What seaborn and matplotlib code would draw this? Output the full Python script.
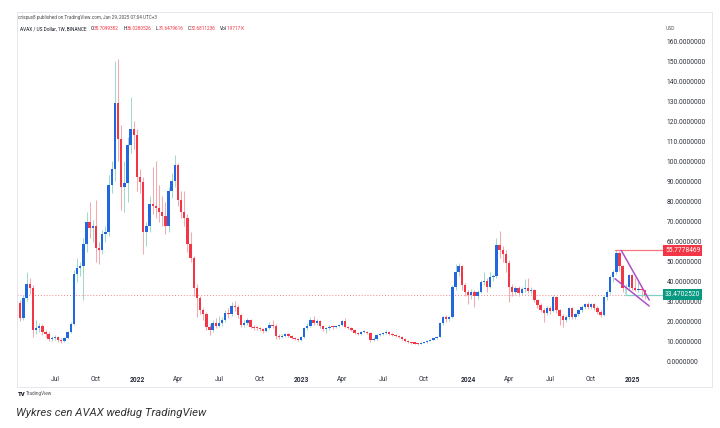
import numpy as np
import pandas as pd
import matplotlib
matplotlib.use("Agg")
import matplotlib.pyplot as plt
import matplotlib.dates as mdates
from matplotlib.patches import Rectangle
from matplotlib.ticker import FuncFormatter, FixedLocator
import seaborn as sns

# ---------------- data (weekly AVAX/USD candles) ----------------
start_date = "2021-04-12"
open0 = 29.5
closes = [22, 32, 39, 37, 16, 17, 18, 15, 14, 11.5, 12, 12.5, 11, 10.5, 12, 15, 19, 44, 47, 48,
          59, 70, 67, 68, 57, 56, 64, 65, 88, 96, 129, 111, 87, 89, 108, 116, 113, 92, 89.5, 65,
          68, 79, 78, 77, 75, 73, 68, 85, 90, 98, 81, 75, 72, 59, 52, 37, 32, 26, 24, 17.5,
          16, 19.5, 18, 19.5, 21, 24.5, 24, 28, 27.5, 23.5, 18.5, 19.5, 21, 17.5, 17, 16.8, 16.5, 15.5, 17, 18.5,
          18, 13, 12.5, 13, 14, 13, 12, 11.5, 11, 12.5, 17, 18, 21, 19.5, 20.5, 18, 16.5, 17, 17.5, 17.3,
          18, 18.5, 20.5, 17.5, 17, 16, 14.5, 14, 15, 15.2, 14.5, 11, 11.5, 13.5, 14, 14.5, 15, 14, 13.5, 13,
          12.5, 11.5, 10.5, 9.8, 9.4, 9.2, 9.0, 9.5, 9.8, 10.5, 11.2, 11.8, 12.6, 19.4, 22.6, 21.5, 22.4, 37.4, 45, 48,
          38.4, 35, 33.4, 35, 33, 35, 40, 40.5, 37.5, 42.5, 43, 58.3, 55.8, 54, 49.5, 37.5, 35, 37, 34.5, 36.5,
          37, 35.5, 36, 31, 28.5, 26, 24.5, 27, 25.5, 32.5, 26, 23, 21, 22.5, 27, 22.5, 24, 26, 27.6, 29,
          27.6, 29, 27, 25, 23.4, 32.6, 35, 42.5, 45, 54.2, 47.8, 36.7, 37.5, 43.4, 37, 36, 36.5, 35.7, 33.47]
highs = [31, 33.5, 45, 42, 38.5, 21, 19.5, 19, 16, 15, 13, 13.5, 13, 12, 12.5, 15.5, 20, 46, 52, 50,
         62, 75, 80, 71, 81, 60, 66, 68, 93, 100, 150, 151, 118, 100, 112, 132, 120, 116, 96, 92,
         70, 83, 97, 100, 88, 83, 80, 87, 94, 103, 99, 85, 85, 74, 65, 53, 39, 33, 27, 25,
         19, 21, 22, 23, 22.5, 26, 27, 30, 30.5, 28.5, 24, 21, 22, 21.5, 18.5, 18, 17.5, 17, 17.5, 20,
         21, 19, 14, 14, 14.5, 14.5, 13.5, 12.5, 12, 13, 17.5, 19.5, 22.6, 22.8, 21.5, 21, 18.5, 17.5, 18.5, 18,
         18.5, 19, 21, 22, 18, 17.5, 16.5, 15, 15.5, 15.8, 15.5, 15, 12.5, 14, 14.5, 15, 16, 15.3, 14.3, 13.8,
         13.3, 12.8, 11.8, 10.8, 10, 9.6, 9.4, 9.8, 10.2, 10.8, 11.5, 12.2, 13, 20, 23, 23.5, 23, 38.5, 49, 49.5,
         48.5, 39.5, 36, 36.5, 36, 36, 41, 45, 42, 45, 44, 61.8, 65.5, 58, 56, 51, 39, 38, 38, 37.5,
         41.5, 41.7, 37.5, 36.5, 31.5, 29.5, 27, 28, 28, 33.5, 33, 26.5, 24, 23.5, 27.5, 27.5, 24.5, 26.5, 28.5, 29.5,
         30, 29.5, 29.5, 28, 26, 33, 36, 43.5, 46, 55.8, 55.5, 48.5, 39, 44, 44, 42, 40, 37.5, 36.03]
lows = [20.5, 21, 30.5, 34, 12.5, 14, 15, 13.5, 12.5, 10.5, 10.5, 11, 10, 9.5, 10, 11.5, 14.5, 18.5, 40, 43,
        31, 55, 62, 60, 50, 49, 54, 60, 63, 84, 90, 100, 76, 75, 80, 104, 106, 85, 84, 54,
        58, 65, 74, 72, 70, 68, 64, 65, 82, 87, 78, 72, 68, 55, 50, 33, 22.5, 24, 21, 16,
        13.5, 15, 17, 17.5, 18, 20, 22, 23, 25.5, 22, 17.5, 17.5, 18.5, 17, 16, 16, 15.5, 14.5, 15, 16.5,
        17, 11.5, 11.5, 12, 12.5, 12.5, 11.5, 10.8, 10.5, 10.6, 12, 16, 17.5, 18.5, 18.5, 17, 15.5, 14.5, 16, 16.5,
        16.8, 17.5, 18, 17, 16.5, 15.5, 14, 13.5, 13.5, 14.3, 14, 10, 10.5, 11, 13, 13.5, 14, 13.5, 13, 12.5,
        12, 11, 10, 9.3, 9, 8.8, 8.6, 8.8, 9.3, 9.6, 10.3, 10.9, 11.6, 12.3, 18.5, 20, 20.5, 22, 36, 43,
        36, 33, 29, 31.5, 27.6, 31.5, 34.5, 38.5, 35, 37, 40.5, 42, 52, 50, 45, 30, 33, 33.5, 33, 33.5,
        35, 34.5, 34, 30, 27, 25, 20, 23.5, 24, 25, 24.5, 18.4, 17.5, 20, 21.5, 21.5, 21.5, 23, 25, 26.5,
        26.5, 26.5, 26, 24, 22.5, 23, 31, 34, 40, 44, 45.5, 35, 34, 36.5, 35.8, 35.5, 35, 32.6, 31.65]

tick_dates = ["2021-06-28", "2021-09-27", "2021-12-27", "2022-03-28", "2022-06-27", "2022-09-26",
              "2022-12-26", "2023-03-27", "2023-06-26", "2023-09-25", "2024-01-01", "2024-04-01",
              "2024-07-01", "2024-09-30", "2024-12-30"]
tick_labels = ["Jul", "Oct", "2022", "Apr", "Jul", "Oct", "2023", "Apr", "Jul", "Oct",
               "2024", "Apr", "Jul", "Oct", "2025"]
price_ticks = [0, 10, 20, 30, 40, 50, 60, 70, 80, 90, 100, 110, 120, 130, 140, 150, 160]

last_price = 33.4702520
resistance_price = 55.7778469
resistance_start = "2024-11-23"
wedge_upper_dates = ["2024-12-06", "2025-02-06"]
wedge_upper_vals = [55.6, 30.9]
wedge_lower_dates = ["2024-11-22", "2025-02-06"]
wedge_lower_vals = [41.5, 27.9]
box_date = "2024-12-14"
box_vals = [33.2, 36.9]

legend_pieces = [("O", "35.7099382"), ("H", "36.0280526"), ("L", "31.6479616"),
                 ("C", "32.6811236"), ("Vol", "19717 K")]

# ---------------- style ----------------
sns.set_theme(style="white")
plt.rcParams["font.family"] = ["Roboto", "DejaVu Sans"]

W, H = 720, 428
def fx(px):
    return px / W
def fy(py):
    return 1 - py / H

fig = plt.figure(figsize=(7.2, 4.28), dpi=100)
fig.patch.set_facecolor("white")

ax = fig.add_axes([fx(17), fy(370), fx(663) - fx(17), fy(12) - fy(370)])
ax.set_facecolor("white")

dates = pd.date_range(start_date, periods=len(closes), freq="7D")
x = mdates.date2num(dates)
c = np.array(closes, dtype=float)
o = np.concatenate([[open0], c[:-1]])
hi = np.array(highs, dtype=float)
lo = np.array(lows, dtype=float)
up = c >= o

body_up, body_dn = "#2168e0", "#f23645"
wick_up, wick_dn = "#a3d9cd", "#f7a9b0"

ax.vlines(x, lo, hi, colors=np.where(up, wick_up, wick_dn), linewidth=0.75, zorder=2)
ax.bar(x, np.maximum(np.abs(c - o), 0.55), bottom=np.minimum(o, c), width=5.3,
       color=np.where(up, body_up, body_dn), linewidth=0, zorder=3)

# x limits (layout)
x_left = mdates.date2num(pd.Timestamp("2021-04-04 16:00"))
x_right = mdates.date2num(pd.Timestamp("2025-03-08 14:00"))
ax.set_xlim(x_left, x_right)
ax.set_ylim(-3.99, 174.48)

# price line (dotted)
ax.axhline(last_price, color="#f23645", linestyle=(0, (1, 2)), linewidth=0.7, alpha=0.6, zorder=1)

# resistance line
rx = mdates.date2num(pd.to_datetime([resistance_start]))[0]
sns.lineplot(x=[rx, x_right], y=[resistance_price, resistance_price], ax=ax,
             color="#f7787f", linewidth=0.9, legend=False, zorder=4)

# teal box edge near the last price
bx = mdates.date2num(pd.to_datetime([box_date]))[0]
sns.lineplot(x=[bx, x_right], y=[box_vals[0], box_vals[0]], ax=ax,
             color="#7fd1c4", linewidth=0.9, legend=False, zorder=4)
ax.plot([bx, bx], box_vals, color="#b7e4dc", linewidth=0.8, zorder=4)

# falling wedge
ux = mdates.date2num(pd.to_datetime(wedge_upper_dates))
lx = mdates.date2num(pd.to_datetime(wedge_lower_dates))
sns.lineplot(x=ux, y=wedge_upper_vals, ax=ax, color="#b04fc6", linewidth=1.1, legend=False, zorder=5)
sns.lineplot(x=lx, y=wedge_lower_vals, ax=ax, color="#b04fc6", linewidth=1.1, legend=False, zorder=5)

# axes cosmetics
for s in ax.spines.values():
    s.set_visible(False)
ax.grid(False)
ax.yaxis.tick_right()
ax.yaxis.set_major_locator(FixedLocator(price_ticks))
ax.yaxis.set_major_formatter(FuncFormatter(lambda v, p: f"{v:.7f}"))
ax.tick_params(axis="y", length=0, pad=2.5, labelsize=4.8, labelcolor="#2a2e39")
tx = mdates.date2num(pd.to_datetime(tick_dates))
ax.set_xticks(tx)
ax.set_xticklabels(tick_labels)
ax.tick_params(axis="x", length=0, pad=4.5, labelsize=4.8, labelcolor="#2a2e39")
for lab in ax.get_xticklabels():
    if lab.get_text().isdigit():
        lab.set_fontweight("bold")
ax.set_xlabel("")
ax.set_ylabel("")

# price labels on the axis
ax.annotate(f"{resistance_price:.7f}", xy=(1.0, resistance_price), xycoords=("axes fraction", "data"),
            xytext=(1.5, 0), textcoords="offset points", ha="left", va="center",
            fontsize=4.8, color="white", annotation_clip=False,
            bbox=dict(boxstyle="square,pad=0.3", fc="#f23645", ec="none"), zorder=6)
ax.annotate(f"{last_price:.7f}", xy=(1.0, last_price), xycoords=("axes fraction", "data"),
            xytext=(1.5, 0), textcoords="offset points", ha="left", va="center",
            fontsize=4.8, color="white", annotation_clip=False,
            bbox=dict(boxstyle="square,pad=0.3", fc="#089981", ec="none"), zorder=6)

# frame
fig.add_artist(Rectangle((fx(17), fy(387)), fx(712) - fx(17), fy(12) - fy(387),
                         transform=fig.transFigure, fill=False, ec="#e3e6ec", lw=0.7))

# header texts
fig.text(fx(18), fy(18), "crispus8 published on TradingView.com, Jan 29, 2025 07:04 UTC+3",
         fontsize=3.3, color="#4a4a4a", ha="left", va="center")
prev = fig.text(fx(20), fy(29), "AVAX / US Dollar, 1W, BINANCE", fontsize=3.4,
                color="#131722", ha="left", va="center")
for lab, val in legend_pieces:
    t1 = ax.annotate(lab, xy=(1, 0), xycoords=prev, xytext=(3.0, 0), textcoords="offset points",
                     ha="left", va="bottom", fontsize=3.4, color="#131722")
    prev = ax.annotate(val, xy=(1, 0), xycoords=t1, xytext=(0.2, 0), textcoords="offset points",
                       ha="left", va="bottom", fontsize=3.4, color="#f23645")
fig.text(fx(666), fy(29), "USD", fontsize=3.6, color="#555555", ha="left", va="center")

# TradingView mark
fig.text(fx(18), fy(394), "TV", fontsize=4.2, fontweight="heavy", color="#131722",
         ha="left", va="center")
fig.text(fx(26), fy(394), "TradingView", fontsize=3.4, color="#555555", ha="left", va="center")

# caption
fig.text(fx(16), fy(413), "Wykres cen AVAX według TradingView", fontsize=8.2, fontstyle="italic",
         color="#333333", ha="left", va="center")

fig.savefig("out.png", dpi=100, facecolor="white")
